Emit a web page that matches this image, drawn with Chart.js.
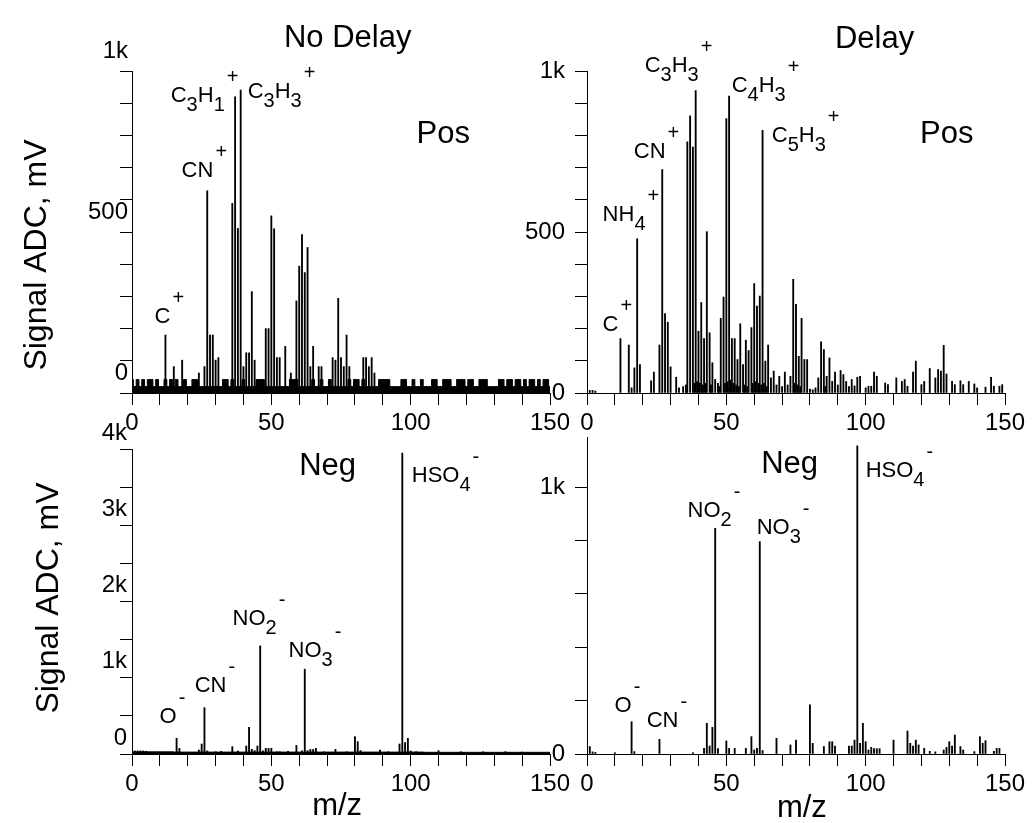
<!DOCTYPE html>
<html>
<head>
<meta charset="utf-8">
<script src="https://cdn.jsdelivr.net/npm/chart.js@4.4.0/dist/chart.umd.min.js"></script>
<style>
  html, body { margin: 0; padding: 0; background: #fff; }
  #wrap { position: relative; width: 1034px; height: 823px; overflow: hidden; background: #fff; }
  canvas { position: absolute; }
</style>
</head>
<body>
<div id="wrap">
  <canvas id="tl" width="580" height="440" style="left:0;top:0"></canvas>
  <canvas id="tr" width="524" height="440" style="left:510px;top:0"></canvas>
  <canvas id="bl" width="580" height="423" style="left:0;top:400px"></canvas>
  <canvas id="br" width="524" height="423" style="left:510px;top:400px"></canvas>
</div>
<script>
const FONT = "'Liberation Sans', Arial, sans-serif";

// No Delay, positive ions
const mzTL = [12,15,18,24,26,27,28,29,30,31,36,37,38,39,40,41,42,43,44,48,49,50,51,52,53,55,57,59,60,61,62,63,64,65,67,68,72,73,74,75,76,77,78,83,84,85,86,87];
const sigTL = [180,82,102,62,82,628,180,180,102,110,589,920,511,941,82,125,125,315,102,200,200,550,510,110,110,145,62,286,394,492,374,452,82,145,82,82,110,102,294,110,82,180,82,110,110,82,110,62];
// thick noise baseline, one value per m/z 0..150
const noiseTL = [
  42,20,42,20,42,20,42,42,20,42,
  20,20,42,20,42,20,42,20,20,42,
  20,20,42,42,20,20,20,20,20,20,
  20,20,20,42,42,20,42,20,20,20,
  42,20,20,20,20,42,42,42,20,20,
  20,20,20,20,20,20,20,42,42,42,
  20,20,20,20,20,42,20,20,42,20,
  20,42,20,20,20,20,20,20,42,20,
  42,42,20,42,20,20,20,20,20,42,
  42,42,42,20,20,20,20,42,42,20,
  20,42,20,20,42,20,20,20,42,42,
  20,20,42,42,42,20,20,42,42,42,
  20,42,42,20,20,42,42,42,20,20,
  20,20,42,42,20,42,42,20,42,42,
  20,42,20,42,42,20,42,20,42,42,20];
const mzNoiseTL = noiseTL.map((v, i) => i);

// Delay, positive ions
const mzTR = [1,2,3,12,15,16,17,18,19,23,24,26,27,28,29,30,32,33,36,37,38,39,40,41,42,43,44,45,46,48,49,50,51,52,53,54,55,56,57,58,59,60,61,62,63,64,65,66,67,69,71,73,74,75,76,77,78,79,82,83,84,85,86,87,88,89,91,92,93,95,97,98,100,101,102,103,104,107,108,111,113,114,115,117,118,120,121,123,125,126,127,128,129,131,132,134,135,137,139,140,143,145,146,148,149];
const sigTR = [8,8,6,169,149,16,78,479,88,38,65,149,694,247,220,81,49,16,780,861,764,939,192,281,169,501,187,94,42,232,298,852,922,169,169,104,215,88,164,132,203,340,270,301,816,99,149,47,68,52,65,52,353,275,114,232,104,104,16,47,159,135,52,109,36,65,70,57,36,42,49,52,16,21,21,65,52,31,26,47,36,42,21,65,99,26,36,76,47,73,68,148,59,36,26,38,26,36,28,16,18,49,21,21,26];
const mzTRsmall = [34.5,35.5,38.5,39.5,40.5,41.5,42.5,44.5,47,47.5,49.5,50.5,51.5,52.5,53.5,54.5,56.5,57.5,59.5,60.5,61.5,62.5,63.5,64.5,68,70,72,74.5,75.5,76.5,80,81,85.5,90,94,96];
const sigTRsmall = [20,25,30,35,30,25,30,25,30,20,30,35,40,30,25,20,25,20,30,35,30,25,30,20,25,20,25,30,25,20,12,10,20,25,20,22];

// No Delay, negative ions
const mzBL = [1,2,3,4,5,16,17,24,25,26,27,30,32,36,38,41,42,43,44,45,46,47,48,49,50,52,53,56,59,61,62,63,64,65,66,69,73,77,80,81,82,89,92,96,97,98,99,100,102,110,118,126,134,140];
const sigBL = [40,40,40,40,35,206,74,52,131,608,40,30,35,96,40,105,350,61,45,105,1418,40,74,74,74,30,30,35,114,40,1112,45,60,60,74,30,61,30,228,162,45,52,30,131,3947,150,206,40,30,44,30,30,31,25];
const mzNoiseBL = [0,30,60,90,120,150];
const noiseBL = [28,25,25,25,22,22];

// Delay, negative ions
const mzBR = [0,1,2,3,10,16,17,26,38,42,43,44,45,46,47,50,51,53,57,59,60,61,62,63,68,73,75,80,81,85,87,88,89,94,95,96,97,98,99,100,101,102,103,104,105,110,115,116,117,118,119,121,123,125,128,129,130,131,132,134,135,139,141,142,143,146,147,148];
const sigBR = [121,28,8,6,5,121,9,55,5,21,115,30,100,846,20,49,21,21,21,65,15,21,796,13,59,34,52,184,40,28,46,46,30,30,30,52,1155,40,115,46,15,25,20,20,20,52,86,40,30,52,34,21,10,8,15,25,46,30,71,28,15,9,65,40,50,10,21,21];

// axis ticks (every one gets a tick mark, only some get a label)
const xTickValues = [0,10,20,30,40,50,60,70,80,90,100,110,120,130,140,150];
const xTickLabels = { 0: '0', 50: '50', 100: '100', 150: '150' };
const yTicksPos = [0,100,200,300,400,500,600,700,800,900,1000];
const yLabelsPos = { 0: '0', 500: '500', 1000: '1k' };
const yTicksNegNoDelay = [0,500,1000,1500,2000,2500,3000,3500,4000];
const yLabelsNegNoDelay = { 0: '0', 1000: '1k', 2000: '2k', 3000: '3k', 4000: '4k' };
const yTicksNegDelay = [0,200,400,600,800,1000];
const yLabelsNegDelay = { 0: '0', 1000: '1k' };

function points(xs, ys) {
  return xs.map((x, i) => ({ x: x, y: ys[i] }));
}

// formula parts: n = normal, b = subscript, p = superscript
function makeTextPlugin(p) {
  return {
    id: 'spectrumText',
    afterDraw(chart) {
      const ctx = chart.ctx;
      const sx = chart.scales.x, sy = chart.scales.y;
      ctx.save();
      ctx.fillStyle = '#000';
      ctx.textBaseline = 'alphabetic';
      ctx.textAlign = 'left';
      p.formulas.forEach(f => {
        let cx = sx.getPixelForValue(f.x);
        const by = sy.getPixelForValue(f.y);
        f.parts.forEach(([t, k]) => {
          const dy = k === 'b' ? 9 : (k === 'p' ? -19 : 0);
          if (k === 'p') cx += 2;
          ctx.font = (k === 'n' ? 22 : 20) + 'px ' + FONT;
          ctx.fillText(t, cx, by + dy);
          cx += ctx.measureText(t).width;
        });
      });
      ctx.textAlign = 'center';
      ctx.font = '31px ' + FONT;
      p.titles.forEach(t => {
        ctx.fillText(t.text, sx.getPixelForValue(t.x), sy.getPixelForValue(t.y));
      });
      if (p.yTitle) {
        ctx.translate(p.yTitle.px, p.yTitle.py);
        ctx.rotate(-Math.PI / 2);
        ctx.font = '32px ' + FONT;
        ctx.textBaseline = 'middle';
        ctx.fillText('Signal ADC, mV', 0, 0);
      }
      ctx.restore();
    }
  };
}

function makeChart(id, p) {
  const datasets = [];
  if (p.band) {
    datasets.push({
      type: 'line', data: points(p.band[0], p.band[1]), stepped: 'middle',
      fill: 'origin', backgroundColor: '#000', borderColor: '#000',
      borderWidth: 1, pointRadius: 0, order: 3
    });
  }
  p.peaks.forEach(s => {
    datasets.push({
      type: 'bar', data: points(s[0], s[1]), backgroundColor: '#000',
      barThickness: 1.2, grouped: false, order: 1
    });
  });

  return new Chart(document.getElementById(id), {
    type: 'bar',
    data: { datasets: datasets },
    options: {
      responsive: false,
      animation: false,
      devicePixelRatio: 1,
      layout: { padding: p.pad },
      plugins: { legend: { display: false }, tooltip: { enabled: false } },
      scales: {
        x: {
          type: 'linear', min: 0, max: 150, offset: false,
          afterBuildTicks: s => { s.ticks = xTickValues.map(v => ({ value: v })); },
          afterFit: s => { s.height = p.xh; },
          border: { display: true, color: '#000', width: 1 },
          grid: { offset: false, drawOnChartArea: false, tickLength: 12, tickColor: '#000', color: '#000' },
          ticks: {
            autoSkip: false, maxRotation: 0, padding: 4,
            color: '#000', font: { family: FONT, size: 24 },
            callback: v => xTickLabels[v] || ''
          }
        },
        y: {
          min: 0, max: p.ymax,
          afterBuildTicks: s => { s.ticks = p.yticks.map(v => ({ value: v })); },
          afterFit: s => { s.width = p.yw; },
          border: { display: true, color: '#000', width: 1 },
          grid: { drawOnChartArea: false, tickLength: 12, tickColor: '#000', color: '#000' },
          ticks: {
            autoSkip: false, padding: p.ypad, labelOffset: p.yoff,
            color: '#000', font: { family: FONT, size: 24 },
            callback: v => p.ylabels[v] || ''
          }
        }
      }
    },
    plugins: [makeTextPlugin(p)]
  });
}

makeChart('tl', {
  peaks: [[mzTL, sigTL]], band: [mzNoiseTL, noiseTL],
  pad: { top: 71, right: 30, left: 0, bottom: 0 }, xh: 47, yw: 132,
  ymax: 1000, yticks: yTicksPos, ylabels: yLabelsPos, ypad: -8, yoff: -20,
  formulas: [
    { x: 8.1, y: 217, parts: [['C', 'n'], ['+', 'p']] },
    { x: 17.8, y: 671, parts: [['CN', 'n'], ['+', 'p']] },
    { x: 13.9, y: 904, parts: [['C', 'n'], ['3', 'b'], ['H', 'n'], ['1', 'b'], ['+', 'p']] },
    { x: 41.5, y: 916, parts: [['C', 'n'], ['3', 'b'], ['H', 'n'], ['3', 'b'], ['+', 'p']] }
  ],
  titles: [
    { text: 'No Delay', x: 77.4, y: 1075 },
    { text: 'Pos', x: 111.7, y: 776 }
  ],
  yTitle: { px: 37, py: 255 }
});

makeChart('tr', {
  peaks: [[mzTR, sigTR], [mzTRsmall, sigTRsmall]],
  pad: { top: 71, right: 29, left: 0, bottom: 0 }, xh: 47, yw: 77,
  ymax: 1000, yticks: yTicksPos, ylabels: yLabelsPos, ypad: 10, yoff: 0,
  formulas: [
    { x: 5.6, y: 192, parts: [['C', 'n'], ['+', 'p']] },
    { x: 5.6, y: 535, parts: [['NH', 'n'], ['4', 'b'], ['+', 'p']] },
    { x: 16.8, y: 729, parts: [['CN', 'n'], ['+', 'p']] },
    { x: 20.7, y: 997, parts: [['C', 'n'], ['3', 'b'], ['H', 'n'], ['3', 'b'], ['+', 'p']] },
    { x: 51.9, y: 934, parts: [['C', 'n'], ['4', 'b'], ['H', 'n'], ['3', 'b'], ['+', 'p']] },
    { x: 66.3, y: 779, parts: [['C', 'n'], ['5', 'b'], ['H', 'n'], ['3', 'b'], ['+', 'p']] }
  ],
  titles: [
    { text: 'Delay', x: 103.2, y: 1071 },
    { text: 'Pos', x: 129.1, y: 776 }
  ]
});

makeChart('bl', {
  peaks: [[mzBL, sigBL]], band: [mzNoiseBL, noiseBL],
  pad: { top: 49, right: 30, left: 0, bottom: 0 }, xh: 69, yw: 132,
  ymax: 4000, yticks: yTicksNegNoDelay, ylabels: yLabelsNegNoDelay, ypad: -7, yoff: -16,
  formulas: [
    { x: 9.9, y: 407, parts: [['O', 'n'], ['-', 'p']] },
    { x: 22.5, y: 813, parts: [['CN', 'n'], ['-', 'p']] },
    { x: 36.1, y: 1692, parts: [['NO', 'n'], ['2', 'b'], ['-', 'p']] },
    { x: 56.2, y: 1272, parts: [['NO', 'n'], ['3', 'b'], ['-', 'p']] },
    { x: 100.4, y: 3567, parts: [['HSO', 'n'], ['4', 'b'], ['-', 'p']] }
  ],
  titles: [
    { text: 'Neg', x: 70.2, y: 3659 },
    { text: 'm/z', x: 73.6, y: -800 }
  ],
  yTitle: { px: 49, py: 198 }
});

makeChart('br', {
  peaks: [[mzBR, sigBR]],
  pad: { top: 37, right: 29, left: 0, bottom: 0 }, xh: 69, yw: 77,
  ymax: 1188, yticks: yTicksNegDelay, ylabels: yLabelsNegDelay, ypad: 10, yoff: 0,
  formulas: [
    { x: 9.9, y: 157, parts: [['O', 'n'], ['-', 'p']] },
    { x: 21.4, y: 101, parts: [['CN', 'n'], ['-', 'p']] },
    { x: 36.1, y: 888, parts: [['NO', 'n'], ['2', 'b'], ['-', 'p']] },
    { x: 60.9, y: 825, parts: [['NO', 'n'], ['3', 'b'], ['-', 'p']] },
    { x: 100, y: 1038, parts: [['HSO', 'n'], ['4', 'b'], ['-', 'p']] }
  ],
  titles: [
    { text: 'Neg', x: 72.7, y: 1053 },
    { text: 'm/z', x: 77.1, y: -236 }
  ]
});
</script>
</body>
</html>
